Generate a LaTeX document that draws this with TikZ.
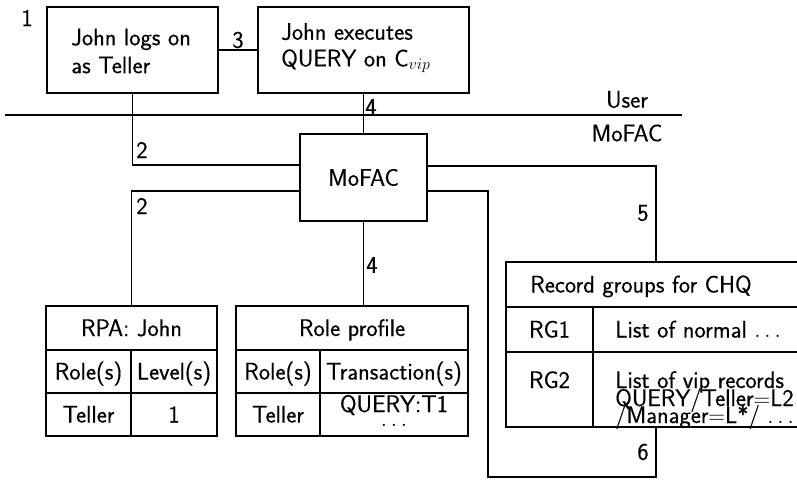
\documentclass[tikz,border=0pt]{standalone}
\usepackage{fontspec}
\setsansfont{Latin Modern Sans}[FakeBold=0.4]
\begin{document}
\begin{tikzpicture}[x=0.75pt,y=-0.75pt,
  font=\sffamily\fontsize{18}{21}\selectfont,
  box/.style={draw, line width=1.6pt, inner sep=0pt},
  conn/.style={line width=1pt},
  grid/.style={line width=1.1pt},
  lbl/.style={inner sep=0pt, anchor=center},
  txt/.style={inner sep=0pt, anchor=base}]
\useasboundingbox (0,0) rectangle (797,480);
\clip (0,0) rectangle (797,480);

% main boxes
\node[box, minimum width=128.25pt, minimum height=64.5pt] (b1) at (132.5,50) {};
\node[inner sep=0pt, align=left, anchor=west] (b1t) at (71,51) {John logs on\\as Teller};
\node[box, minimum width=158.25pt, minimum height=64.5pt] (b2) at (363.5,50) {};
\node[inner sep=0pt, align=left, anchor=west, font=\sffamily\fontsize{18}{20}\selectfont] (b2t) at (281,48) {John executes\\QUERY on C$_{vip}$};
\node[box, minimum width=95.25pt, minimum height=65.25pt] (mo) at (363.5,177.5) {MoFAC};

% tables
\node[box, minimum width=128.25pt, minimum height=97.5pt] (rpa) at (131.5,371) {};
\node[box, minimum width=174pt, minimum height=97.5pt] (rp) at (352,371) {};
\node[box, minimum width=225pt, minimum height=123.75pt] (rg) at (656,344.5) {};

\draw[grid] (rpa.west |- 0,350) -- (rpa.east |- 0,350);
\draw[grid] (rpa.west |- 0,393) -- (rpa.east |- 0,393);
\draw[grid] (131,350) -- (131,350 |- rpa.south);
\draw[grid] (rp.west |- 0,350) -- (rp.east |- 0,350);
\draw[grid] (rp.west |- 0,393) -- (rp.east |- 0,393);
\draw[grid] (320,350) -- (320,350 |- rp.south);
\draw[grid] (rg.west |- 0,307) -- (rg.east |- 0,307);
\draw[grid] (rg.west |- 0,352) -- (rg.east |- 0,352);
\draw[grid] (593,307) -- (593,307 |- rg.south);

% table texts
\node[txt] (rpah) at (131.5,336) {RPA:\ John};
\node[txt] (rpa1) at (88.5,379.5) {Role(s)};
\node[txt] (rpa2) at (174,379.5) {Level(s)};
\node[txt] (rpa3) at (88.5,422.5) {Teller};
\node[txt] (rpa4) at (174,422.5) {1};
\node[txt] (rph) at (352,336) {Role profile};
\node[txt] (rp1) at (278,379.5) {Role(s)};
\node[txt] (rp2) at (394,379.5) {Transaction(s)};
\node[txt] (rp3) at (278,422.5) {Teller};
\node[txt] (rp4) at (394,412) {QUERY:T1};
\node[txt] (rp5) at (394,426) {$\ldots$};
\node[txt, anchor=base west] (rgh) at (530,292.5) {Record groups for CHQ};
\node[txt] (rg1) at (549.5,337.5) {RG1};
\node[txt, anchor=base west] (rg1t) at (615,337.5) {List of normal $\ldots$};
\node[txt] (rg2) at (549.5,388) {RG2};
\node[txt, anchor=base west] (rg2a) at (615,388) {List of vip records};
\node[txt, anchor=base west] (rg2b) at (615,406) {QUERY/Teller$=$L2};
\node[txt, anchor=base west] (rg2c) at (615,423) {/Manager$=$L*/ $\ldots$};

% separator
\coordinate (sepL) at (5,115);
\coordinate (sepR) at (682,115);
\draw[conn] (sepL) -- (sepR);
\node[lbl] (user) at (627,99.5) {User};
\node[lbl] (mofacl) at (627,133) {MoFAC};

% connectors
\draw[conn] (b1.east) -- (b2.west);
\draw[conn] (b2.south) -- (mo.north);
\draw[conn] (b1.south) |- (mo.west |- 0,165);
\draw[conn] (mo.west |- 0,191) -| (rpa.north);
\draw[conn] (mo.south) -- (mo.south |- rp.north);
\draw[conn] (mo.east |- 0,166) -| (rg.north);
\coordinate (c6a) at (488,191);
\coordinate (c6b) at (488,477);
\coordinate (c6c) at (656,477);
\draw[conn] (mo.east |- c6a) -- (c6a) -- (c6b) -- (c6c) -- (rg.south);

% connector labels
\node[lbl] (l1) at (27,18) {1};
\node[lbl] (l3) at (238,40) {3};
\node[lbl] (l4a) at (371,107) {4};
\node[lbl] (l2a) at (142,150) {2};
\node[lbl] (l2b) at (142,206) {2};
\node[lbl] (l5) at (643,213) {5};
\node[lbl] (l4b) at (372,265) {4};
\node[lbl] (l6) at (643,452) {6};
\end{tikzpicture}
\end{document}
